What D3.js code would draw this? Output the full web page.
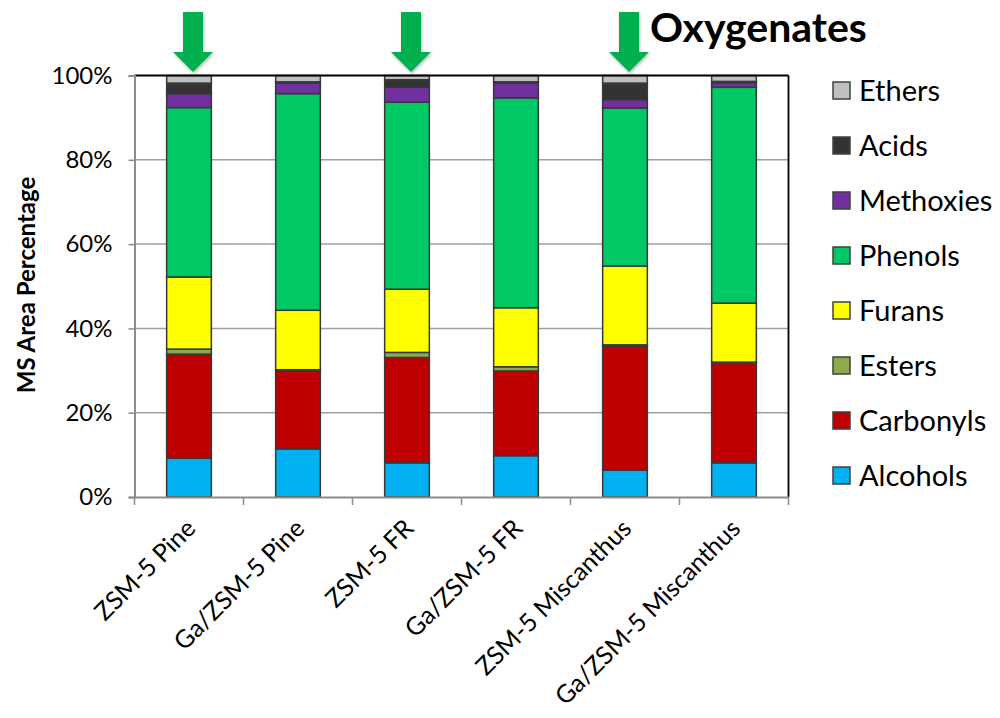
<!DOCTYPE html>
<html><head><meta charset="utf-8">
<script src="https://cdn.jsdelivr.net/npm/d3@7"></script>
<style>body{margin:0;background:#fff}svg{display:block}text{font-family:Lato,"Open Sans",sans-serif}</style>
</head><body><svg id="c" width="1000" height="718"></svg>
<script>
const categories = ["ZSM-5 Pine","Ga/ZSM-5 Pine","ZSM-5 FR","Ga/ZSM-5 FR","ZSM-5 Miscanthus","Ga/ZSM-5 Miscanthus"];
const seriesNames = ["Alcohols","Carbonyls","Esters","Furans","Phenols","Methoxies","Acids","Ethers"];
const alcohols  = [9.2, 11.4, 8.1, 9.8, 6.4, 8.1];
const carbonyls = [24.7, 18.5, 25.0, 20.1, 29.4, 23.6];
const esters    = [1.2, 0.3, 1.2, 1.0, 0.3, 0.3];
const furans    = [17.1, 14.1, 15.0, 14.0, 18.7, 14.0];
const phenols   = [40.2, 51.4, 44.4, 49.8, 37.5, 51.2];
const methoxies = [3.3, 2.5, 3.5, 3.5, 2.0, 1.1];
const acids     = [2.5, 0.3, 1.8, 0.3, 3.9, 0.3];
const ethers    = [1.8, 1.5, 1.0, 1.5, 1.8, 1.4];
const colors = ["#00B0F0","#C00000","#8FAA4C","#FFFF00","#00C864","#7030A0","#333333","#BFBFBF"];
const yTicks = [0,20,40,60,80,100];
const arrowed = ["ZSM-5 Pine","ZSM-5 FR","ZSM-5 Miscanthus"];
const title = "Oxygenates";
const yTitle = "MS Area Percentage";

const seriesValues = [alcohols,carbonyls,esters,furans,phenols,methoxies,acids,ethers];
const rows = categories.map((c,i)=>{const r={cat:c}; seriesNames.forEach((s,j)=>r[s]=seriesValues[j][i]); return r;});
const stack = d3.stack().keys(seriesNames)(rows);

const svg = d3.select("#c");
const x = d3.scaleBand().domain(categories).range([134.5,788.5]).padding(0);
const y = d3.scaleLinear().domain([0,100]).range([497,75.5]);
const barW = x.bandwidth()*0.41;

// gridlines
svg.append("g").selectAll("line").data(yTicks.filter(t=>t>0&&t<100)).join("line")
  .attr("x1",x.range()[0]).attr("x2",x.range()[1]).attr("y1",d=>y(d)).attr("y2",d=>y(d))
  .attr("stroke","#A0A0A0").attr("stroke-width",1.5);

// bars
const layers = svg.append("g").selectAll("g").data(stack).join("g").attr("fill",(d,i)=>colors[i]);
layers.selectAll("rect").data(d=>d).join("rect")
  .attr("x",d=>x(d.data.cat)+x.bandwidth()/2-barW/2).attr("width",barW)
  .attr("y",d=>y(d[1])).attr("height",d=>y(d[0])-y(d[1]))
  .attr("stroke","#383838").attr("stroke-width",1.5);

// frame top/right
svg.append("line").attr("x1",x.range()[0]).attr("x2",x.range()[1]).attr("y1",y(100)).attr("y2",y(100)).attr("stroke","#000").attr("stroke-width",1.8);
svg.append("line").attr("x1",x.range()[1]).attr("x2",x.range()[1]).attr("y1",y(100)).attr("y2",y(0)).attr("stroke","#000").attr("stroke-width",1.8);

// y axis
const yAxis = svg.append("g").attr("transform",`translate(${x.range()[0]},0)`)
  .call(d3.axisLeft(y).tickValues(yTicks).tickFormat(d=>d+"%").tickSize(6).tickPadding(16));
yAxis.select(".domain").attr("stroke","#8C8C8C").attr("stroke-width",2);
yAxis.selectAll(".tick line").attr("stroke","#8C8C8C").attr("stroke-width",1.5);
yAxis.selectAll("text").attr("font-size",24).attr("fill","#000").attr("font-family","Lato");

// x axis
const xAxis = svg.append("g").attr("transform",`translate(0,${y(0)})`)
  .call(d3.axisBottom(x).tickSize(0).tickFormat(""));
xAxis.select(".domain").attr("stroke","#8C8C8C").attr("stroke-width",2);
const bounds = categories.map(c=>x(c)).concat([x.range()[1]]);
svg.append("g").selectAll("line").data(bounds).join("line")
  .attr("x1",d=>d).attr("x2",d=>d).attr("y1",y(0)).attr("y2",y(0)+8)
  .attr("stroke","#8C8C8C").attr("stroke-width",1.5);
svg.append("g").selectAll("text").data(categories).join("text")
  .attr("transform",d=>`translate(${x(d)+x.bandwidth()/2+8},${y(0)+33}) rotate(-45)`)
  .attr("text-anchor","end").attr("font-size",25).attr("fill","#000").text(d=>d);

// y title
svg.append("text").attr("transform","translate(35,285) rotate(-90)").attr("text-anchor","middle")
  .attr("font-size",24).attr("font-weight","bold").text(yTitle);

// legend
const legendOrder = seriesNames.map((s,i)=>({s,c:colors[i]})).reverse();
const lg = svg.append("g").selectAll("g").data(legendOrder).join("g")
  .attr("transform",(d,i)=>`translate(833,${91+i*55})`);
lg.append("rect").attr("x",0).attr("y",-9).attr("width",17).attr("height",17)
  .attr("fill",d=>d.c).attr("stroke","#404040").attr("stroke-width",1.5);
lg.append("text").attr("x",26).attr("y",0).attr("dy","0.36em").attr("font-size",29).text(d=>d.s);

// arrows
const defs = svg.append("defs");
const f = defs.append("filter").attr("id","sh").attr("x","-30%").attr("y","-30%").attr("width","160%").attr("height","160%");
f.append("feDropShadow").attr("dx",1).attr("dy",2).attr("stdDeviation",1.5).attr("flood-color","#000").attr("flood-opacity",0.25);
svg.append("g").selectAll("path").data(arrowed).join("path")
  .attr("d",d=>{const cx=x(d)+x.bandwidth()/2+4; const p=d3.path();
    p.moveTo(cx-10,12);p.lineTo(cx+10,12);p.lineTo(cx+10,52);p.lineTo(cx+20,52);p.lineTo(cx,72);p.lineTo(cx-20,52);p.lineTo(cx-10,52);p.closePath();return p.toString();})
  .attr("fill","#00B050").attr("filter","url(#sh)");

// title
svg.append("text").attr("x",650).attr("y",42).attr("font-size",41).attr("font-weight","bold").text(title);
</script></body></html>
